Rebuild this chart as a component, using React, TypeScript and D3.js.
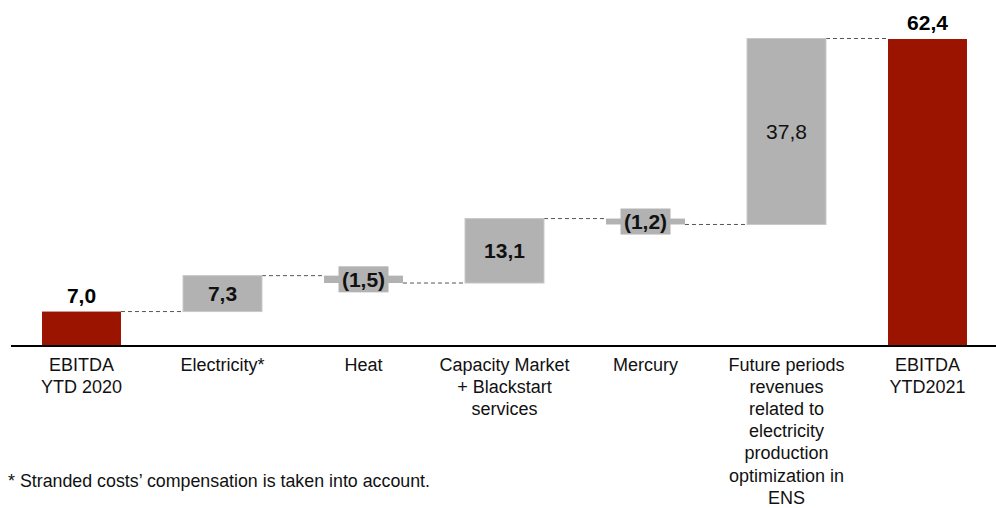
import React from "react";
import * as d3 from "d3";

const categories: string[][] = [
  ["EBITDA", "YTD 2020"],
  ["Electricity*"],
  ["Heat"],
  ["Capacity Market", "+ Blackstart", "services"],
  ["Mercury"],
  ["Future periods", "revenues", "related to", "electricity", "production", "optimization in", "ENS"],
  ["EBITDA", "YTD2021"],
];
const values: number[] = [7.0, 7.3, -1.5, 13.1, -1.2, 37.8, 62.4];
const kinds: string[] = ["total", "delta", "delta", "delta", "delta", "delta", "total"];
const valueLabels: string[] = ["7,0", "7,3", "(1,5)", "13,1", "(1,2)", "37,8", "62,4"];
const boldLabels: boolean[] = [true, true, true, true, true, false, true];
const footnote = "* Stranded costs’ compensation is taken into account.";

const W = 996;
const H = 508;
const RED = "#9A1400";
const GRAY = "#B2B2B2";
const FONT = "'Liberation Sans', Arial, sans-serif";

export default function App() {
  const x = d3
    .scaleBand<number>()
    .domain(d3.range(categories.length))
    .range([11, 998])
    .paddingInner(0.44)
    .paddingOuter(0.22);
  const y = d3.scaleLinear().domain([0, 62.4]).range([346, 39]);

  let cum = 0;
  const bars = values.map((v, i) => {
    let start: number, end: number;
    if (kinds[i] === "total") {
      start = 0;
      end = v;
      cum = v;
    } else {
      start = cum;
      end = cum + v;
      cum = end;
    }
    return { i, v, start, end, level: kinds[i] === "total" ? v : end };
  });

  const bw = x.bandwidth();

  return (
    <svg
      width={W}
      height={H}
      style={{ position: "absolute", left: 0, top: 0, background: "#fff" }}
      fontFamily={FONT}
    >
      {/* connectors */}
      {bars.slice(0, -1).map((b, i) => {
        const x1 = (x(i) as number) + bw;
        const x2 = x(i + 1) as number;
        const yy = y(b.level);
        return (
          <line
            key={"c" + i}
            x1={x1}
            x2={x2}
            y1={yy}
            y2={yy}
            stroke="#555"
            strokeWidth={1}
            strokeDasharray="4,3"
          />
        );
      })}
      {/* bars */}
      {bars.map((b) => {
        const x0 = x(b.i) as number;
        const top = y(Math.max(b.start, b.end));
        const bot = y(Math.min(b.start, b.end));
        const isTotal = kinds[b.i] === "total";
        const cx = x0 + bw / 2;
        const label = valueLabels[b.i];
        const bold = boldLabels[b.i];
        if (isTotal) {
          return (
            <g key={"b" + b.i}>
              <rect x={x0} y={top} width={bw} height={bot - top} fill={RED} />
              <text
                x={cx}
                y={top - 9}
                textAnchor="middle"
                fontSize={21}
                fontWeight="bold"
                fill="#000"
              >
                {label}
              </text>
            </g>
          );
        }
        if (b.v < 0) {
          const mid = (top + bot) / 2;
          const boxW = 50;
          const boxH = 26;
          return (
            <g key={"b" + b.i}>
              <rect x={x0} y={top} width={bw} height={bot - top} fill={GRAY} />
              <rect x={cx - boxW / 2} y={mid - boxH / 2} width={boxW} height={boxH} fill={GRAY} />
              <text
                x={cx}
                y={mid}
                dy="0.36em"
                textAnchor="middle"
                fontSize={21}
                fontWeight="bold"
                fill="#111"
              >
                {label}
              </text>
            </g>
          );
        }
        return (
          <g key={"b" + b.i}>
            <rect
              x={x0}
              y={top}
              width={bw}
              height={bot - top}
              fill={GRAY}
              stroke="#C8C8C8"
              strokeWidth={1}
            />
            <text
              x={cx}
              y={(top + bot) / 2}
              dy="0.36em"
              textAnchor="middle"
              fontSize={21}
              fontWeight={bold ? "bold" : "normal"}
              fill="#111"
            >
              {label}
            </text>
          </g>
        );
      })}
      {/* axis line */}
      <line x1={11} x2={996} y1={y(0)} y2={y(0)} stroke="#000" strokeWidth={2} />
      {/* category labels */}
      {categories.map((lines, i) => (
        <text
          key={"l" + i}
          x={(x(i) as number) + bw / 2}
          y={371}
          textAnchor="middle"
          fontSize={18}
          fill="#111"
        >
          {lines.map((ln, j) => (
            <tspan key={j} x={(x(i) as number) + bw / 2} dy={j === 0 ? 0 : 22.1}>
              {ln}
            </tspan>
          ))}
        </text>
      ))}
      <text
        x={8}
        y={487}
        fontSize={19}
        fill="#111"
        textLength={422}
        lengthAdjust="spacingAndGlyphs"
      >
        {footnote}
      </text>
    </svg>
  );
}
